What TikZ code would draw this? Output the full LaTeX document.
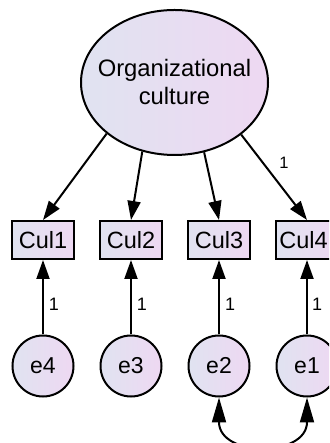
\documentclass[tikz,border=0pt]{standalone}
\usepackage{fontspec}
\setmainfont{Liberation Sans}
\usetikzlibrary{arrows.meta,shapes.geometric}
\definecolor{fillL}{RGB}{224,227,241}
\definecolor{fillR}{RGB}{238,216,242}
\tikzset{
  shade fill/.style={left color=fillL, right color=fillR, shading angle=90},
  latent/.style={ellipse, draw, line width=2pt, shade fill, inner sep=0pt,
    minimum width=187pt, minimum height=145pt},
  observed/.style={rectangle, draw, line width=2pt, shade fill, inner sep=0pt,
    minimum width=62pt, minimum height=38pt, font=\fontsize{23.5}{28}\selectfont},
  errorvar/.style={circle, draw, line width=2pt, shade fill, inner sep=0pt,
    minimum size=61pt, font=\fontsize{23}{28}\selectfont},
  path/.style={line width=2pt, -{Triangle[length=19pt,width=13pt]}},
  cov/.style={line width=2pt, {Triangle[length=25pt,width=14pt]}-{Triangle[length=25pt,width=14pt]}},
  weight/.style={font=\fontsize{18}{20}\selectfont, inner sep=0pt}
}
\begin{document}
\begin{tikzpicture}[x=1pt,y=1pt]
  \clip (0,0) rectangle (329,443);
  \fill[white] (0,0) rectangle (329,443);

  % latent factor
  \node[latent, label={[align=center, font=\fontsize{23.8}{28}\selectfont]center:Organizational\\culture}]
    (oc) at (174.5,360.5) {};

  % indicators
  \node[observed] (c1) at (43,203)  {Cul1};
  \node[observed] (c2) at (131,203) {Cul2};
  \node[observed] (c3) at (219,203) {Cul3};
  \node[observed, label={[font=\fontsize{23.5}{28}\selectfont, inner sep=0pt, xshift=-3.5pt]center:Cul4}]
    (c4) at (307,203) {};

  % error terms
  \node[errorvar] (e4) at (43,77)  {e4};
  \node[errorvar] (e3) at (131,77) {e3};
  \node[errorvar] (e2) at (219,77) {e2};
  \node[errorvar] (e1) at (307,77) {e1};

  % factor loadings
  \draw[path] (oc.217)   -- (c1.north);
  \draw[path] (oc.245)   -- (c2.north);
  \draw[path] (oc.293.7) -- (c3.north);
  \draw[path] (oc.322.5) -- (c4.north);
  \node[weight, font=\fontsize{16.5}{20}\selectfont] (w4) at (284,280.5) {1};

  % error paths
  \draw[path] (e4) -- (c1);
  \draw[path] (e3) -- (c2);
  \draw[path] (e2) -- (c3);
  \draw[path] (e1) -- (c4);
  \node[weight] (r4) at (54,139) {1};
  \node[weight] (r3) at (142,139) {1};
  \node[weight] (r2) at (230,139) {1};
  \node[weight] (r1) at (317,139) {1};

  % error covariance
  \draw[cov] (e2.south) .. controls +(0,-60) and +(0,-60) .. (e1.south);
\end{tikzpicture}
\end{document}
